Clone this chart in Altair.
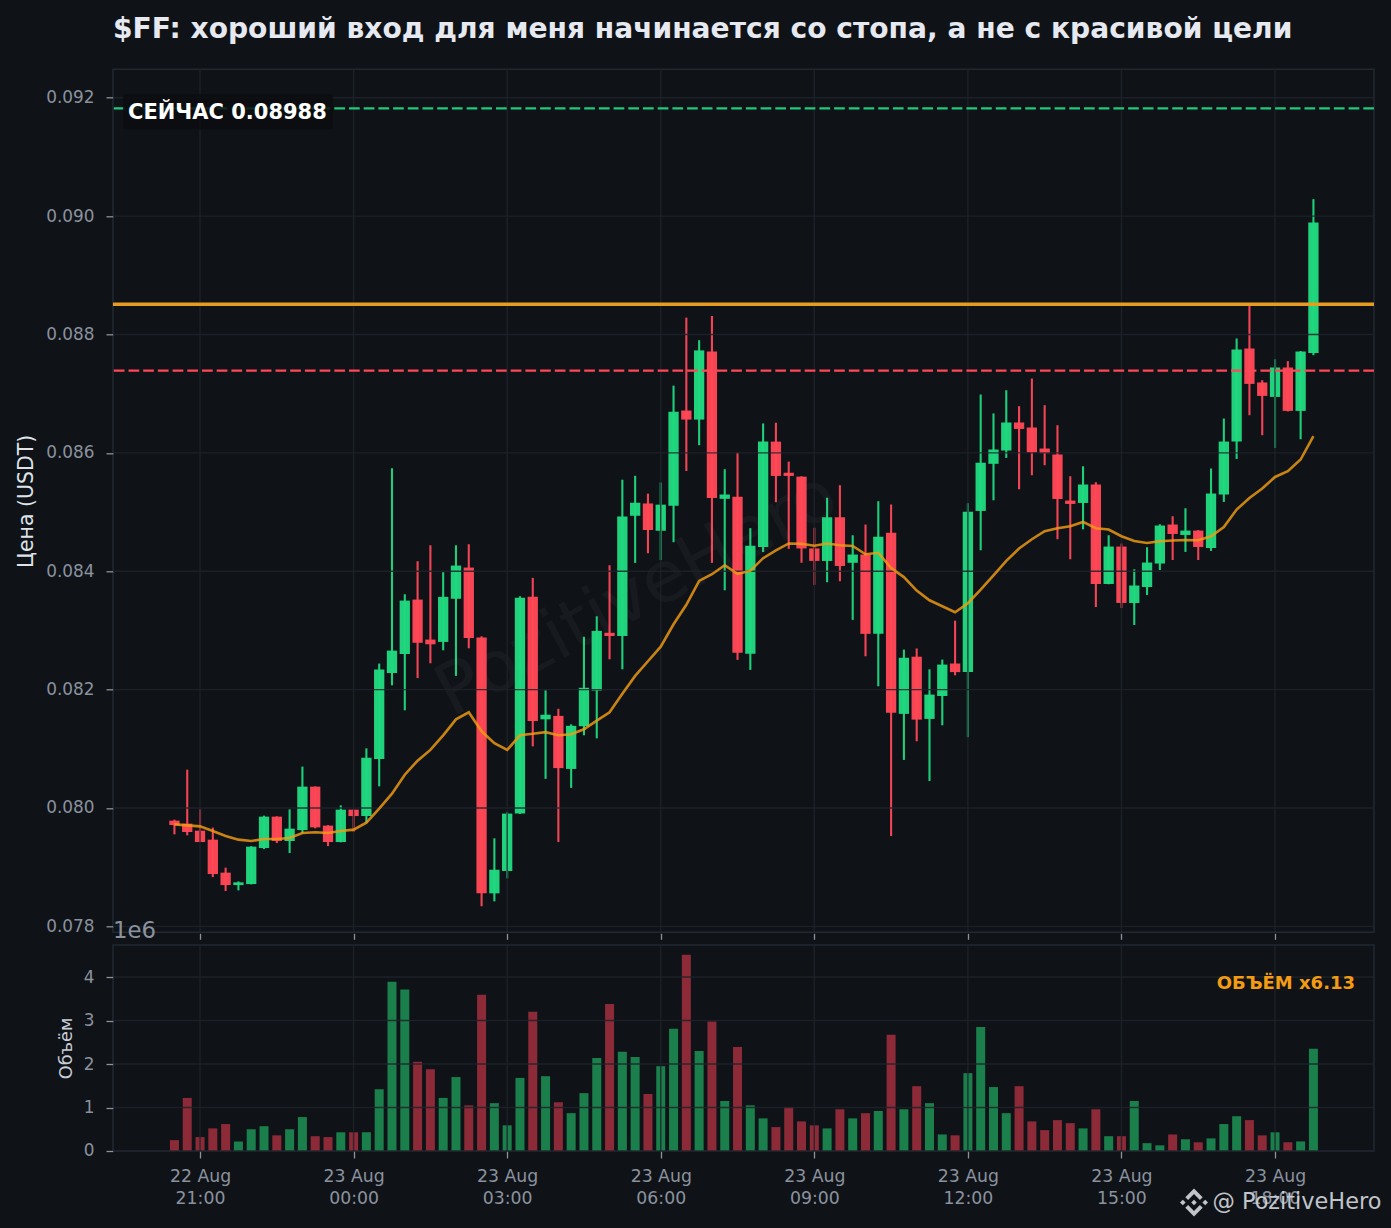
import altair as alt
import pandas as pd

BG = "#0f1318"
# Candle values (price x 1e-6)
opens = [79786,79736,79617,79465,78908,78698,78715,79323,79854,79442,79627,80361,79702,79425,79972,79864,80827,82281,82602,83521,82845,82806,83535,84062,82879,78558,78936,79905,83567,81498,81556,80660,81382,81983,82960,82906,84937,85145,84684,85105,86715,86562,87711,85223,85260,82604,84408,86190,85664,85598,84385,84174,84912,84143,84282,82942,84650,81590,82556,81505,81892,82441,82296,85019,85815,86039,86513,86428,86073,85972,85194,85154,85465,83785,84417,83464,83734,84130,84789,84613,84687,84393,85296,86191,87763,87189,86945,87442,86709,87689]
highs = [79803,80648,79977,79668,78992,78761,79355,79871,79860,79977,80699,80365,79710,80045,79975,81008,82440,85740,83611,84169,84439,83983,84439,84456,82901,79487,79927,83577,83888,81988,81676,81414,82893,83239,84101,85546,85612,85311,85499,87136,88285,87903,88312,85723,86002,84728,86497,86509,85852,85605,84735,85242,85453,84608,84789,85183,85127,82676,82695,82343,82507,83165,85150,86986,86666,87058,86788,87256,86805,86467,85605,85774,85504,84608,84468,84033,84405,84794,84929,85064,84695,85735,86580,87932,88483,87227,87582,87549,87720,90286]
lows = [79555,79538,79425,78833,78597,78608,78710,79306,79408,79239,79577,79656,79357,79420,79594,79746,80366,82073,81650,82195,82445,82664,82232,82698,78341,78423,78811,79900,81042,80493,79425,80339,81228,81177,82512,82343,84141,84304,84189,84490,85693,86129,84141,83678,82502,82333,84324,85166,84378,84143,83770,83814,83831,83178,82563,82056,79526,80812,81127,80456,81397,82242,81197,84354,85199,85914,85385,85622,85791,84540,84202,84709,83396,83780,83379,83092,83599,84021,84190,84326,84190,84343,85171,85897,86636,86298,86083,86700,86230,87650]
closes = [79712,79594,79425,78884,78698,78744,79347,79854,79442,79651,80361,79673,79425,79972,79864,80851,82338,82659,83504,82791,82766,83567,84096,82872,78558,78957,79905,83553,81470,81576,80674,81388,82031,82992,82906,84924,85157,84697,85125,86695,86562,87731,85238,85296,82622,84432,86190,85610,85610,84385,84174,84912,84089,84282,82942,84584,81608,82538,81493,81916,82423,82296,85007,85833,86056,86513,86404,86006,85994,85221,85137,85465,83785,84417,83464,83758,84147,84772,84630,84687,84410,85313,86191,87746,87165,86962,87442,86709,87712,89893]
ma = [79724,79707,79690,79611,79526,79465,79442,79475,79475,79492,79577,79589,79577,79611,79634,79753,79989,80243,80562,80800,80981,81228,81498,81617,81296,81094,80981,81228,81255,81282,81228,81245,81329,81476,81617,81931,82232,82479,82725,83104,83433,83836,83949,84101,83956,84005,84221,84354,84469,84463,84432,84469,84439,84427,84287,84312,84052,83901,83672,83509,83408,83307,83460,83690,83932,84174,84383,84540,84676,84726,84760,84833,84726,84704,84591,84512,84478,84507,84518,84528,84523,84591,84748,85042,85238,85397,85593,85690,85887,86281]
volumes = [0.25,1.22,0.32,0.52,0.62,0.22,0.50,0.57,0.36,0.50,0.78,0.34,0.32,0.43,0.43,0.43,1.42,3.89,3.71,2.05,1.88,1.22,1.70,1.05,3.59,1.10,0.59,1.68,3.20,1.72,1.12,0.87,1.33,2.14,3.38,2.28,2.16,1.31,1.95,2.81,4.51,2.30,2.98,1.15,2.39,1.05,0.75,0.55,1.01,0.68,0.59,0.52,0.96,0.75,0.87,0.92,2.67,0.96,1.49,1.10,0.38,0.36,1.79,2.85,1.47,0.87,1.49,0.68,0.48,0.71,0.64,0.52,0.96,0.34,0.34,1.15,0.18,0.13,0.38,0.27,0.20,0.29,0.62,0.80,0.71,0.36,0.43,0.20,0.22,2.35]
level_now = 0.09182
level_orange = 0.08851
level_red = 0.08739
price_ticks = [0.078,0.080,0.082,0.084,0.086,0.088,0.090,0.092]
vol_ticks = [0,1e6,2e6,3e6,4e6]

TITLE = "$FF: хороший вход для меня начинается со стопа, а не с красивой цели"

times = pd.date_range("2025-08-22T20:30:00", periods=len(opens), freq="15min")
time_ticks = pd.date_range("2025-08-22T21:00:00", "2025-08-23T18:00:00", freq="3h")
ms = lambda t: int(pd.Timestamp(t, tz="UTC").timestamp() * 1000)
tick_ms = [ms(t) for t in time_ticks]
x_scale = alt.Scale(type="utc", domain=[ms("2025-08-22T19:18:00"), ms("2025-08-23T19:56:00")], nice=False, padding=0)
y_scale = alt.Scale(domain=[0.07790, 0.09248], zero=False, nice=False)
v_scale = alt.Scale(domain=[0, 4.736e6], zero=True, nice=False)

df = pd.DataFrame({
    "t": times.strftime("%Y-%m-%dT%H:%M:%SZ"),
    "open": [v / 1e6 for v in opens], "high": [v / 1e6 for v in highs],
    "low": [v / 1e6 for v in lows], "close": [v / 1e6 for v in closes],
    "ma": [v / 1e6 for v in ma], "vol": [v * 1e6 for v in volumes],
})
df["dir"] = ["up" if c >= o else "down" for o, c in zip(opens, closes)]

GRID = "#1e232a"
TICK = "#8b929e"
candle_color = alt.Color("dir:N", scale=alt.Scale(domain=["up", "down"], range=["#20d97f", "#ff4757"]), legend=None)
vol_color = alt.Color("dir:N", scale=alt.Scale(domain=["up", "down"], range=["#1a7f4b", "#8c2a38"]), legend=None)

x_grid = pd.DataFrame({"t": time_ticks.strftime("%Y-%m-%dT%H:%M:%SZ")})
p_grid = pd.DataFrame({"y": price_ticks})
v_grid = pd.DataFrame({"y": vol_ticks})
one = pd.DataFrame({"a": [1]})


def label(text, x, y, **kw):
    return alt.Chart(pd.DataFrame({"s": [text]})).mark_text(**kw).encode(
        x=alt.value(x), y=alt.value(y), text="s:N")


main_x_axis = alt.Axis(values=tick_ms, labels=False, ticks=True, tickSize=6, tickWidth=1.3, tickColor=TICK,
                       domain=False, grid=False, title=None, offset=1)
y_axis = alt.Axis(values=price_ticks, format=".3f", labelColor=TICK, labelFontSize=16.9, labelPadding=12,
                  tickColor=TICK, tickSize=7, tickWidth=1.3, domain=False, grid=False,
                  title="Цена (USDT)", titleColor="#dfe3e9", titleFontSize=20.5, titleFontWeight="normal",
                  titlePadding=9)
X = alt.X("t:T", scale=x_scale, axis=main_x_axis)
YS = dict(scale=y_scale, axis=y_axis)

watermark = label("PozitiveHero", 524, 526, fontSize=71, angle=332, color="white", opacity=0.03, align="center", baseline="middle")
wicks = alt.Chart(df).mark_rule(strokeWidth=2.1, opacity=0.95).encode(
    x=X, y=alt.Y("low:Q", **YS), y2="high:Q", color=candle_color)
bodies = alt.Chart(df).mark_bar(size=10.3, opacity=0.97).encode(
    x=X, y=alt.Y("open:Q", **YS), y2="close:Q", color=candle_color)
y_grid = alt.Chart(p_grid).mark_rule(color=GRID, strokeWidth=1.4, opacity=0.85).encode(y=alt.Y("y:Q", **YS))
x_grid_main = alt.Chart(x_grid).mark_rule(color=GRID, strokeWidth=1.4, opacity=0.85).encode(x=X)


def level(value, color, width, dash=None):
    kw = {"strokeDash": dash} if dash else {}
    return alt.Chart(pd.DataFrame({"y": [value]})).mark_rule(color=color, strokeWidth=width, **kw).encode(
        y=alt.Y("y:Q", **YS))


now_line = level(level_now, "#20c97b", 2.2, [10.7, 4])
red_line = level(level_red, "#ff4757", 2.2, [10.7, 4])
gold_line = level(level_orange, "#e89c1f", 3.4)
ma_line = alt.Chart(df).mark_line(color="#f39c12", strokeWidth=2.6, opacity=0.82).encode(
    x=X, y=alt.Y("ma:Q", **YS))
now_box = alt.Chart(one).mark_rect(color="#0a0d11", opacity=0.85, cornerRadius=3).encode(
    x=alt.value(10), x2=alt.value(220), y=alt.value(25), y2=alt.value(60))
now_text = label("СЕЙЧАС 0.08988", 15, 44, fontSize=21, fontWeight="bold", color="white", align="left", baseline="middle")
exp_text = label("1e6", 0, 862, fontSize=22.8, color=TICK, align="left", baseline="middle")

main = alt.layer(
    wicks, watermark, bodies, y_grid, x_grid_main, now_line, red_line, gold_line, ma_line, now_box, now_text, exp_text
).properties(
    width=1261, height=863,
    title=alt.TitleParams(TITLE, anchor="start", frame="group", fontSize=28.15, fontWeight="bold", color="#e6e9f0", offset=24.5),
)

vol_x_axis = alt.Axis(values=tick_ms,
                      labelExpr="[utcFormat(datum.value, '%d %b'), utcFormat(datum.value, '%H:%M')]",
                      labelColor=TICK, labelFontSize=17.3, labelLineHeight=22, labelPadding=10, labelAngle=0,
                      tickColor=TICK, tickSize=7, tickWidth=1.3, domain=False, grid=False, title=None)
vol_y_axis = alt.Axis(values=vol_ticks, labelExpr="datum.value / 1000000", labelColor=TICK, labelFontSize=16.9,
                      labelPadding=12, tickColor=TICK, tickSize=7, tickWidth=1.3, domain=False, grid=False,
                      title="Объём", titleColor="#c9ced6", titleFontSize=17.7, titleFontWeight="normal", titlePadding=8)
XV = alt.X("t:T", scale=x_scale, axis=vol_x_axis)
YV = dict(scale=v_scale, axis=vol_y_axis)
vol_bars = alt.Chart(df).mark_bar(size=9).encode(x=XV, y=alt.Y("vol:Q", **YV), color=vol_color)
vol_y_grid = alt.Chart(v_grid).mark_rule(color=GRID, strokeWidth=1.4, opacity=0.85).encode(y=alt.Y("y:Q", **YV))
vol_x_grid = alt.Chart(x_grid).mark_rule(color=GRID, strokeWidth=1.4, opacity=0.85).encode(x=XV)
vol_note = label("ОБЪЁМ x6.13", 1242, 39.5, fontSize=18, fontWeight="bold", color="#f39c12", align="right", baseline="middle")
handle = label("@ PozitiveHero", 1099.5, 257.5, fontSize=22.4, color="#d5d8dd", opacity=0.9, align="left", baseline="middle")
LOGO = ("M0,-0.2 L0.2,0 L0,0.2 L-0.2,0 Z M-1,0 L-0.8,-0.2 L-0.6,0 L-0.8,0.2 Z M1,0 L0.8,-0.2 L0.6,0 L0.8,0.2 Z "
        "M0,-1 L0.62,-0.38 L0.42,-0.18 L0,-0.6 L-0.42,-0.18 L-0.62,-0.38 Z "
        "M0,1 L0.62,0.38 L0.42,0.18 L0,0.6 L-0.42,0.18 L-0.62,0.38 Z")
logo = alt.Chart(one).mark_point(shape=LOGO, size=784, filled=True, color="#d5d8dd", opacity=0.9).encode(
    x=alt.value(1081), y=alt.value(257.5))

volume = alt.layer(vol_bars, vol_y_grid, vol_x_grid, vol_note, handle, logo).properties(width=1261, height=206)

chart = alt.vconcat(main, volume, spacing=-1.3).resolve_scale(color="independent", x="independent", y="independent").properties(
    padding={"left": 7, "top": 5.3, "right": 0, "bottom": 0},
    background=BG,
).configure(font="DejaVu Sans").configure_view(fill=BG, stroke="#222831", strokeWidth=1.5)

chart.save("out.html", embed_options={"renderer": "svg", "actions": False, "defaultStyle": "html,body{background:%s;}" % BG})
